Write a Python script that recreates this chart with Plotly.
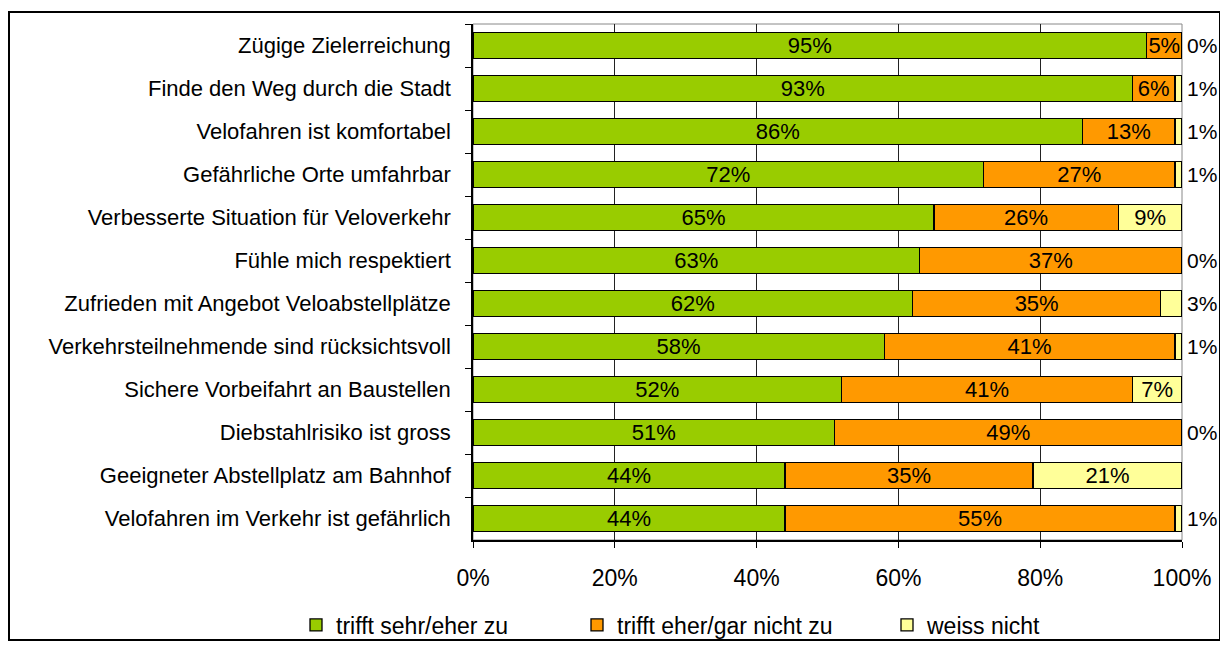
import plotly.graph_objects as go

categories = [
    "Zügige Zielerreichung",
    "Finde den Weg durch die Stadt",
    "Velofahren ist komfortabel",
    "Gefährliche Orte umfahrbar",
    "Verbesserte Situation für Veloverkehr",
    "Fühle mich respektiert",
    "Zufrieden mit Angebot Veloabstellplätze",
    "Verkehrsteilnehmende sind rücksichtsvoll",
    "Sichere Vorbeifahrt an Baustellen",
    "Diebstahlrisiko ist gross",
    "Geeigneter Abstellplatz am Bahnhof",
    "Velofahren im Verkehr ist gefährlich",
]
trifft_zu = [95, 93, 86, 72, 65, 63, 62, 58, 52, 51, 44, 44]
trifft_nicht_zu = [5, 6, 13, 27, 26, 37, 35, 41, 41, 49, 35, 55]
weiss_nicht = [0, 1, 1, 1, 9, 0, 3, 1, 7, 0, 21, 1]
series_names = ["trifft sehr/eher zu", "trifft eher/gar nicht zu", "weiss nicht"]
tick_vals = [0, 20, 40, 60, 80, 100]
tick_text = ["0%", "20%", "40%", "60%", "80%", "100%"]

colors = ["#99CC00", "#FF9900", "#FFFF99"]
FONT = "Liberation Sans, Arial, sans-serif"
W, H = 1228, 648
OFF = 8  # page body margin
L, R, T, B = 465, 54, 16, 116
pw, ph = W - L - R, H - T - B

fig = go.Figure()
INSIDE_MIN = 5
all_series = [trifft_zu, trifft_nicht_zu, weiss_nicht]
legends = ["legend", "legend2", "legend3"]
for i, (name, vals) in enumerate(zip(series_names, all_series)):
    if i < 2:
        texts = [f"{v}%" for v in vals]
        pos = ["inside"] * len(vals)
    else:
        texts = [f"{v}%" if v >= INSIDE_MIN else "" for v in vals]
        pos = ["inside" if v >= INSIDE_MIN else "none" for v in vals]
    fig.add_trace(go.Bar(
        y=categories, x=vals, name=name, orientation="h",
        marker=dict(color=colors[i], line=dict(color="#000000", width=1.3)),
        text=texts, textposition=pos, insidetextanchor="middle",
        constraintext="none", textangle=0,
        textfont=dict(family=FONT, size=22, color="#000000"),
        legend=legends[i], showlegend=True,
        hoverinfo="skip",
    ))

# outside labels for small "weiss nicht" values
for c, v in zip(categories, weiss_nicht):
    if v < INSIDE_MIN:
        fig.add_annotation(x=100, y=c, xref="x", yref="y", text=f"{v}%",
                           showarrow=False, xanchor="left", xshift=3,
                           font=dict(family=FONT, size=21, color="#000000"))

# plot-area frame (gray) and figure border
fig.add_shape(type="rect", xref="paper", yref="paper", x0=0, x1=1, y0=0, y1=1,
              line=dict(color="#888888", width=1), layer="below")
fig.add_shape(type="rect", xref="paper", yref="paper",
              x0=(1 - L) / pw, x1=(1212 - L) / pw,
              y0=(T + ph - 632) / ph, y1=(T + ph - 4) / ph,
              line=dict(color="#000000", width=2))

legend_common = dict(orientation="h", xref="container", yref="container",
                     yanchor="middle", y=1 - (625 - OFF) / H, bgcolor="rgba(0,0,0,0)",
                     font=dict(family=FONT, size=23, color="#000000"))

def leg_x(square_left_page):
    return (square_left_page - OFF - 22) / W

fig.update_layout(
    width=W, height=H, barmode="stack", bargap=0.395, showlegend=True,
    margin=dict(l=L, r=R, t=T, b=B),
    paper_bgcolor="white", plot_bgcolor="white",
    font=dict(family=FONT, size=22, color="#000000"),
    xaxis=dict(range=[0, 100], tickvals=tick_vals, ticktext=tick_text,
               showgrid=True, gridcolor="#222222", gridwidth=1,
               showline=True, linecolor="#000000", linewidth=1.5,
               ticks="outside", ticklen=6, tickcolor="#000000",
               tickfont=dict(family=FONT, size=23, color="#000000"),
               ticklabelstandoff=11, zeroline=False, fixedrange=True),
    yaxis=dict(autorange="reversed", showline=True, linecolor="#000000", linewidth=1.5,
               ticks="outside", ticklen=6, tickcolor="#000000", tickson="boundaries",
               tickfont=dict(family=FONT, size=22, color="#000000"),
               ticklabelstandoff=16, showgrid=False, fixedrange=True),
    legend=dict(x=leg_x(318), xanchor="left", **legend_common),
    legend2=dict(x=leg_x(599), xanchor="left", **legend_common),
    legend3=dict(x=leg_x(909), xanchor="left", **legend_common),
)

fig.write_html("out.html")
